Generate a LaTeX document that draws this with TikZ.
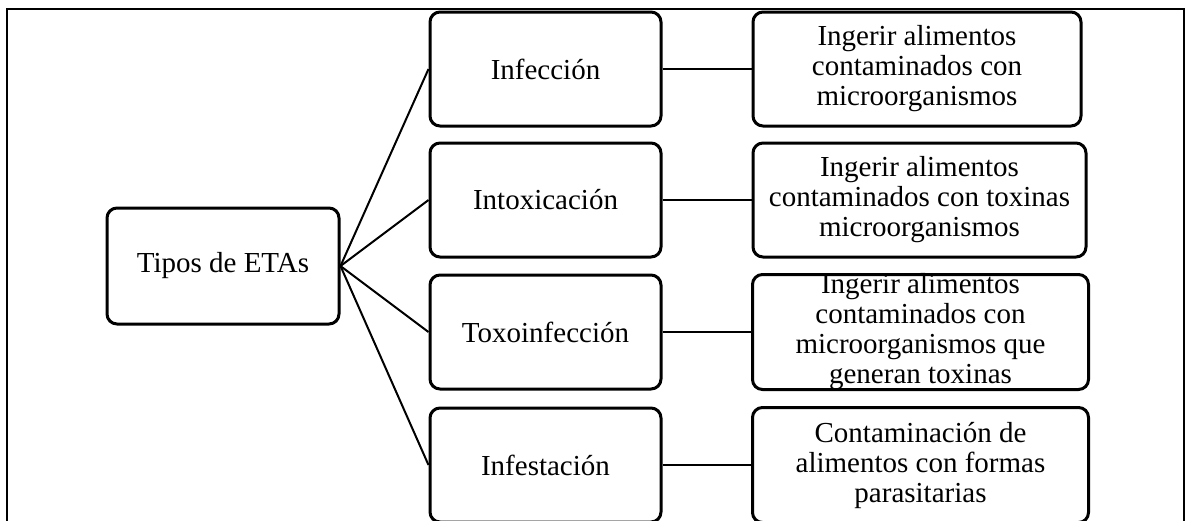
\documentclass[tikz,border=0pt]{standalone}
\usepackage{fontspec}
\setmainfont{Liberation Serif}
\begin{document}
\begin{tikzpicture}[x=1pt,y=-1pt,
  txt/.style={align=center, inner sep=0pt, font=\fontsize{29}{30}\selectfont},
  box/.style={txt, draw, line width=3pt, rounded corners=10pt},
  midbox/.style={box, minimum width=231pt, minimum height=114pt},
  link/.style={line width=2pt},
  frame/.style={line width=1.5pt}]
\useasboundingbox (0,0) rectangle (1189,520);
\clip (0,0) rectangle (1189,520);
\fill[white] (0,0) rectangle (1189,520);
\draw[frame] (7,540) -- (7,9) -- (1184,9) -- (1184,540);

\node[box, minimum width=232pt, minimum height=116pt] (tipos) at (223,266) {Tipos de ETAs};

\node[midbox] (m1) at (545.5,69) {Infección};
\node[midbox] (m2) at (545.5,200) {Intoxicación};
\node[midbox] (m3) at (545.5,332) {Toxoinfección};
\node[midbox] (m4) at (545.5,465) {Infestación};

\node[box, minimum width=328pt, minimum height=114pt] (r1) at (917,69)
  {Ingerir alimentos\\contaminados con\\microorganismos};
\node[box, minimum width=333pt, minimum height=114pt] (r2) at (919.5,200)
  {Ingerir alimentos\\contaminados con toxinas\\microorganismos};
\node[box, minimum width=336pt, minimum height=115pt] (r3) at (920.5,332) {};
\node[txt] (r3t) at (r3.center)
  {Ingerir alimentos\\contaminados con\\microorganismos que\\generan toxinas};
\node[box, minimum width=336pt, minimum height=115pt] (r4) at (920.5,465)
  {Contaminación de\\alimentos con formas\\parasitarias};

\draw[link] (tipos.east) -- (m1.west);
\draw[link] (tipos.east) -- (m2.west);
\draw[link] (tipos.east) -- (m3.west);
\draw[link] (tipos.east) -- (m4.west);
\draw[link] (m1.east) -- (r1.west);
\draw[link] (m2.east) -- (r2.west);
\draw[link] (m3.east) -- (r3.west);
\draw[link] (m4.east) -- (r4.west);
\end{tikzpicture}
\end{document}
